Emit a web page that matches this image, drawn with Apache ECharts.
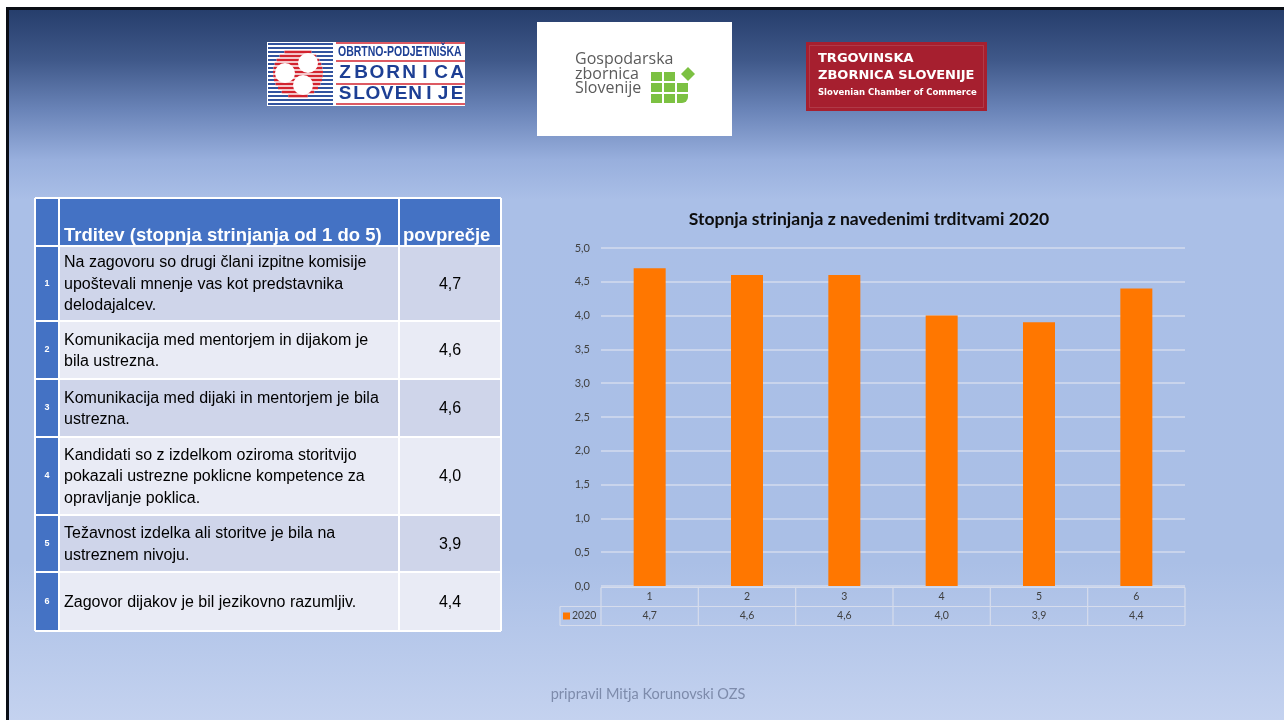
<!DOCTYPE html>
<html lang="sl">
<head>
<meta charset="UTF-8">
<title>Stopnja strinjanja</title>
<script src="https://cdn.jsdelivr.net/npm/echarts@6.0.0/dist/echarts.min.js"></script>
<style>
    html, body { margin: 0; padding: 0; overflow: hidden; }
    #main { width: 1284px; height: 720px; }
</style>
</head>
<body>
<div id="main"></div>
<script type="text/javascript">

    // podatki
    const categories = ['1', '2', '3', '4', '5', '6'];
    const seriesName = '2020';
    const values = [4.7, 4.6, 4.6, 4.0, 3.9, 4.4];
    const statements = [
        'Na zagovoru so drugi člani izpitne komisije\nupoštevali mnenje vas kot predstavnika\ndelodajalcev.',
        'Komunikacija med mentorjem in dijakom je\nbila ustrezna.',
        'Komunikacija med dijaki in mentorjem je bila\nustrezna.',
        'Kandidati so z izdelkom oziroma storitvijo\npokazali ustrezne poklicne kompetence za\nopravljanje poklica.',
        'Težavnost izdelka ali storitve je bila na\nustreznem nivoju.',
        'Zagovor dijakov je bil jezikovno razumljiv.'
    ];
    const tableHeader = ['Trditev (stopnja strinjanja od 1 do 5)', 'povprečje'];
    const chartTitle = 'Stopnja strinjanja z navedenimi trditvami 2020';
    const footerText = 'pripravil Mitja Korunovski OZS';

    const fmt = v => Number(v).toFixed(1).replace('.', ',');
    const chartFont = 'Lato, "Noto Sans", sans-serif';
    const tableFont = '"Liberation Sans", Arial, sans-serif';

    let myChart = echarts.init(document.getElementById('main'));

    option = {
        animation: false,
        backgroundColor: new echarts.graphic.LinearGradient(0, 0, 0, 1, [
            {offset: 0, color: '#233a66'},
            {offset: 0.014, color: '#263e6c'},
            {offset: 0.083, color: '#3f5889'},
            {offset: 0.153, color: '#6a84b8'},
            {offset: 0.222, color: '#98afdd'},
            {offset: 0.278, color: '#aabfe7'},
            {offset: 0.78, color: '#aabfe6'},
            {offset: 1, color: '#c4d2ef'}
        ]),
        title: {
            text: chartTitle,
            left: 869,
            top: 210,
            padding: 0,
            textAlign: 'center',
            textStyle: {fontFamily: chartFont, fontSize: 17.5, fontWeight: 'bold', color: '#0d0d0d'}
        },
        grid: {left: 601, right: 99, top: 248, bottom: 134},
        xAxis: {
            type: 'category',
            data: categories,
            axisLabel: {show: false},
            axisTick: {show: false},
            axisLine: {show: false}
        },
        yAxis: {
            type: 'value',
            min: 0,
            max: 5,
            interval: 0.5,
            axisLabel: {formatter: fmt, fontFamily: chartFont, fontSize: 11, color: '#404040', margin: 11},
            axisLine: {show: false},
            axisTick: {show: false},
            splitLine: {lineStyle: {color: '#d3dbee', width: 1.5}}
        },
        series: [{
            name: seriesName,
            type: 'bar',
            data: values,
            barWidth: 32,
            itemStyle: {color: '#ff7700'}
        }]
    };
    myChart.setOption(option);

    let g = [];

    // robovi diapozitiva
    g.push({type: 'rect', z: 50, shape: {x: 0, y: 0, width: 1284, height: 7}, style: {fill: '#ffffff'}});
    g.push({type: 'rect', z: 50, shape: {x: 0, y: 0, width: 6, height: 720}, style: {fill: '#ffffff'}});
    g.push({type: 'rect', z: 51, shape: {x: 7.5, y: 8.5, width: 1300, height: 730}, style: {fill: null, stroke: '#0a0e16', lineWidth: 3}});

    // logo OZS
    g.push({type: 'rect', shape: {x: 267, y: 42, width: 198, height: 64}, style: {fill: '#ffffff'}});
    const cx = 298, cy = 73, cr = 25;
    for (let y = 44; y <= 104; y += 4) {
        const d = Math.abs(y - cy) < cr ? Math.sqrt(cr * cr - (y - cy) * (y - cy)) : 0;
        if (d > 0) {
            g.push({type: 'line', shape: {x1: 268, y1: y, x2: cx - d, y2: y}, style: {stroke: '#33549f', lineWidth: 2}});
            g.push({type: 'line', shape: {x1: cx - d, y1: y, x2: cx + d, y2: y}, style: {stroke: '#d2232f', lineWidth: 2.6}});
            g.push({type: 'line', shape: {x1: cx + d, y1: y, x2: 333, y2: y}, style: {stroke: '#33549f', lineWidth: 2}});
        } else {
            g.push({type: 'line', shape: {x1: 268, y1: y, x2: 333, y2: y}, style: {stroke: '#33549f', lineWidth: 2}});
        }
    }
    [[285, 73], [308, 63], [303, 85]].forEach(p => {
        g.push({type: 'circle', shape: {cx: p[0], cy: p[1], r: 10}, style: {fill: '#ffffff'}});
    });
    [43, 61, 84, 104].forEach(y => {
        g.push({type: 'line', shape: {x1: 336, y1: y, x2: 465, y2: y}, style: {stroke: '#d2232f', lineWidth: 1.5}});
    });
    g.push({type: 'text', x: 338, y: 52, scaleX: 0.7, style: {text: 'OBRTNO-PODJETNIŠKA', x: 0, y: 0, verticalAlign: 'middle',
        font: 'bold 15px "Liberation Sans", sans-serif', fill: '#1d3f94'}});
    'ZBORNICA'.split('').forEach((ch, i) => {
        g.push({type: 'text', style: {text: ch, x: 345 + i * 16, y: 73, align: 'center', verticalAlign: 'middle',
            font: 'bold 19px "Liberation Sans", sans-serif', fill: '#1d3f94'}});
    });
    'SLOVENIJE'.split('').forEach((ch, i) => {
        g.push({type: 'text', style: {text: ch, x: 345 + i * 14, y: 94, align: 'center', verticalAlign: 'middle',
            font: 'bold 19px "Liberation Sans", sans-serif', fill: '#1d3f94'}});
    });

    // logo GZS
    g.push({type: 'rect', shape: {x: 537, y: 22, width: 195, height: 114}, style: {fill: '#ffffff'}});
    g.push({type: 'text', style: {text: 'Gospodarska\nzbornica\nSlovenije', x: 575, y: 74, verticalAlign: 'middle',
        lineHeight: 14.5, font: '16px "Open Sans", sans-serif', fill: '#5b5b5b'}});
    const sq = [[0, 0], [1, 0], [0, 1], [1, 1], [2, 1], [0, 2], [1, 2]];
    sq.forEach(p => {
        g.push({type: 'rect', shape: {x: 651 + p[0] * 13, y: 72 + p[1] * 11, width: 11, height: 9}, style: {fill: '#7cc142'}});
    });
    g.push({type: 'rect', shape: {x: 677, y: 94, width: 11, height: 9, r: [0, 0, 6, 0]}, style: {fill: '#7cc142'}});
    g.push({type: 'polygon', shape: {points: [[688, 67], [695, 74], [688, 81], [681, 74]]}, style: {fill: '#7cc142'}});

    // logo TZS
    g.push({type: 'rect', shape: {x: 806, y: 42, width: 181, height: 69}, style: {fill: '#a61f2f'}});
    g.push({type: 'rect', shape: {x: 809.5, y: 45.5, width: 174, height: 62}, style: {fill: null, stroke: 'rgba(255,255,255,0.12)', lineWidth: 1}});
    g.push({type: 'text', style: {text: 'TRGOVINSKA\nZBORNICA SLOVENIJE', x: 818, y: 67, verticalAlign: 'middle', lineHeight: 17,
        font: 'bold 13px "DejaVu Sans", sans-serif', fill: '#ffffff'}});
    g.push({type: 'text', style: {text: 'Slovenian Chamber of Commerce', x: 818, y: 93, verticalAlign: 'middle',
        font: 'bold 8.5px "DejaVu Sans", sans-serif', fill: '#ffffff'}});

    // tabela levo
    const colX = [35, 59, 399, 501];
    const headTop = 198, headBottom = 246;
    const rowH = [75, 58, 58, 78, 57, 59];
    const blue = '#4472c4';
    g.push({type: 'rect', shape: {x: colX[0], y: headTop, width: colX[3] - colX[0], height: headBottom - headTop}, style: {fill: blue}});
    g.push({type: 'text', style: {text: tableHeader[0], x: colX[1] + 5, y: 236, verticalAlign: 'middle',
        font: 'bold 18.5px ' + tableFont, fill: '#ffffff'}});
    g.push({type: 'text', style: {text: tableHeader[1], x: colX[2] + 4, y: 236, verticalAlign: 'middle',
        font: 'bold 18.5px ' + tableFont, fill: '#ffffff'}});
    let ry = headBottom;
    let rowEdges = [headTop, headBottom];
    statements.forEach((s, i) => {
        const h = rowH[i];
        const band = i % 2 === 0 ? '#cfd5ea' : '#e9ebf5';
        g.push({type: 'rect', shape: {x: colX[0], y: ry, width: colX[1] - colX[0], height: h}, style: {fill: blue}});
        g.push({type: 'rect', shape: {x: colX[1], y: ry, width: colX[3] - colX[1], height: h}, style: {fill: band}});
        g.push({type: 'text', style: {text: String(i + 1), x: (colX[0] + colX[1]) / 2, y: ry + h / 2, align: 'center', verticalAlign: 'middle',
            font: 'bold 9px ' + tableFont, fill: '#ffffff'}});
        g.push({type: 'text', style: {text: s, x: colX[1] + 5, y: ry + h / 2 + 1, verticalAlign: 'middle', lineHeight: 21.5,
            font: '16px ' + tableFont, fill: '#000000'}});
        g.push({type: 'text', style: {text: fmt(values[i]), x: 450, y: ry + h / 2 + 1, align: 'center', verticalAlign: 'middle',
            font: '16px ' + tableFont, fill: '#000000'}});
        ry += h;
        rowEdges.push(ry);
    });
    rowEdges.forEach(y => {
        g.push({type: 'line', shape: {x1: colX[0], y1: y, x2: colX[3], y2: y}, style: {stroke: '#ffffff', lineWidth: 2}});
    });
    colX.forEach(x => {
        g.push({type: 'line', shape: {x1: x, y1: headTop, x2: x, y2: ry}, style: {stroke: '#ffffff', lineWidth: 2}});
    });

    // podatkovna tabela pod grafom
    const centers = categories.map(c => myChart.convertToPixel({xAxisIndex: 0}, c));
    const bw = centers[1] - centers[0];
    const tLeft = centers[0] - bw / 2;
    const tRight = centers[centers.length - 1] + bw / 2;
    const yb = Math.round(myChart.convertToPixel({yAxisIndex: 0}, 0));
    const r1 = yb + 1.5, r2 = r1 + 19, r3 = r2 + 19;
    const lg = tLeft - 41;
    const tl = {stroke: '#d6dcec', lineWidth: 1.2};
    g.push({type: 'line', shape: {x1: tLeft, y1: r1, x2: tRight, y2: r1}, style: tl});
    g.push({type: 'line', shape: {x1: lg, y1: r2, x2: tRight, y2: r2}, style: tl});
    g.push({type: 'line', shape: {x1: lg, y1: r3, x2: tRight, y2: r3}, style: tl});
    g.push({type: 'line', shape: {x1: lg, y1: r2, x2: lg, y2: r3}, style: tl});
    for (let i = 0; i <= categories.length; i++) {
        const x = tLeft + i * bw;
        g.push({type: 'line', shape: {x1: x, y1: r1, x2: x, y2: r3}, style: tl});
    }
    categories.forEach((c, i) => {
        g.push({type: 'text', style: {text: c, x: centers[i], y: (r1 + r2) / 2, align: 'center', verticalAlign: 'middle',
            font: '10.5px ' + chartFont, fill: '#404040'}});
        g.push({type: 'text', style: {text: fmt(values[i]), x: centers[i], y: (r2 + r3) / 2, align: 'center', verticalAlign: 'middle',
            font: '10.5px ' + chartFont, fill: '#404040'}});
    });
    g.push({type: 'rect', shape: {x: lg + 3, y: r2 + 6, width: 7, height: 7}, style: {fill: '#ff7700'}});
    g.push({type: 'text', style: {text: seriesName, x: lg + 12, y: (r2 + r3) / 2, verticalAlign: 'middle',
        font: '10.5px ' + chartFont, fill: '#404040'}});

    // noga
    g.push({type: 'text', style: {text: footerText, x: 648, y: 694, align: 'center', verticalAlign: 'middle',
        font: '14.5px ' + chartFont, fill: '#7d8bab'}});

    myChart.setOption({graphic: {elements: g}});
</script>
</body>
</html>
